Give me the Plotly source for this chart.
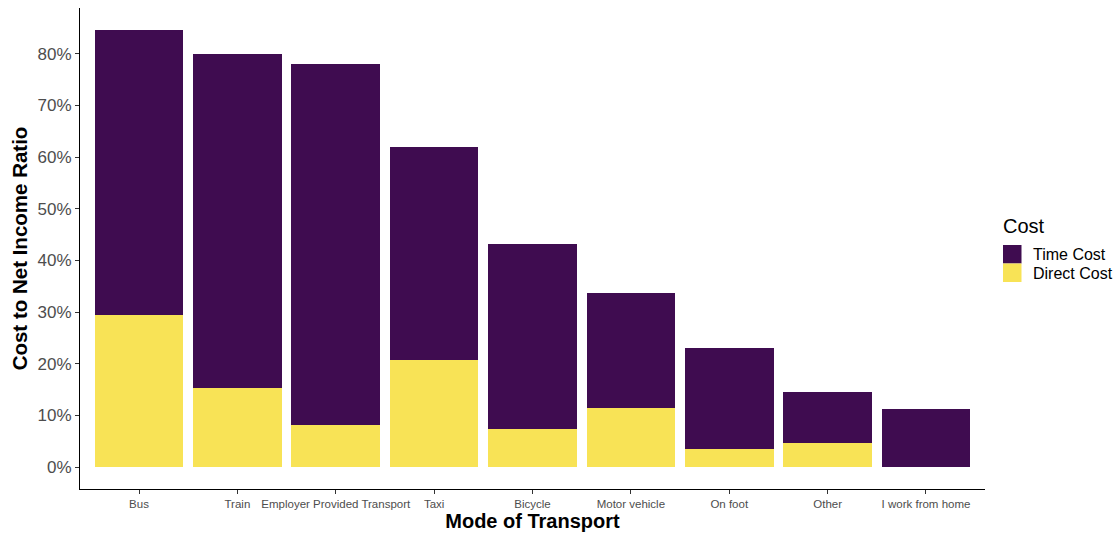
import plotly.graph_objects as go

categories = ["Bus", "Train", "Employer Provided Transport", "Taxi", "Bicycle",
              "Motor vehicle", "On foot", "Other", "I work from home"]
direct_cost = [29.5, 15.3, 8.2, 20.8, 7.4, 11.4, 3.5, 4.6, 0.0]
total_cost = [84.6, 79.9, 78.0, 61.9, 43.1, 33.6, 23.0, 14.6, 11.2]
time_cost = [t - d for t, d in zip(total_cost, direct_cost)]
y_ticks = [0, 10, 20, 30, 40, 50, 60, 70, 80]
y_tick_labels = [f"{v}%" for v in y_ticks]
legend_title = "Cost"
legend_labels = ["Time Cost", "Direct Cost"]

PURPLE = "#3F0C50"
YELLOW = "#F8E356"
FONT = "Liberation Sans, Arial, sans-serif"

W, H = 1117, 536
ML, MR, MT, MB = 80, 132, 8, 47
PW, PH = W - ML - MR, H - MT - MB


def px_x(px):
    return (px - ML) / PW


def px_y(py):
    return (H - MB - py) / PH


fig = go.Figure()
fig.add_trace(go.Bar(x=categories, y=direct_cost, name=legend_labels[1],
                     marker=dict(color=YELLOW, line=dict(width=0)), width=0.9))
fig.add_trace(go.Bar(x=categories, y=time_cost, name=legend_labels[0],
                     marker=dict(color=PURPLE, line=dict(width=0)), width=0.9))

# manual legend (ggplot-style square keys)
legend_colors = [PURPLE, YELLOW]
shapes = []
annotations = [dict(text=legend_title, xref="paper", yref="paper",
                    x=px_x(1001), y=px_y(226), xanchor="left", yanchor="middle",
                    showarrow=False, font=dict(size=20, color="black", family=FONT))]
for i, (lab, col) in enumerate(zip(legend_labels, legend_colors)):
    top = 245 + i * 18.5
    shapes.append(dict(type="rect", xref="paper", yref="paper",
                       x0=px_x(1003), x1=px_x(1021.5), y0=px_y(top + 18.5), y1=px_y(top),
                       fillcolor=col, line=dict(width=0)))
    annotations.append(dict(text=lab, xref="paper", yref="paper",
                            x=px_x(1031), y=px_y(top + 9.5), xanchor="left", yanchor="middle",
                            showarrow=False, font=dict(size=16, color="black", family=FONT)))

fig.update_layout(
    barmode="stack",
    width=W, height=H,
    margin=dict(l=ML, r=MR, t=MT, b=MB),
    paper_bgcolor="white", plot_bgcolor="white",
    font=dict(family=FONT, color="#4d4d4d"),
    showlegend=False,
    shapes=shapes,
    annotations=annotations,
    xaxis=dict(
        range=[-0.6, 8.6],
        showline=True, linecolor="black", linewidth=1,
        ticks="outside", ticklen=4, tickcolor="#333333",
        tickfont=dict(size=11.5, color="#4d4d4d"),
        title=dict(text="<b>Mode of Transport</b>", font=dict(size=20, color="black"), standoff=5),
        automargin=False, showgrid=False,
    ),
    yaxis=dict(
        range=[-4.23, 88.83],
        tickmode="array", tickvals=y_ticks, ticktext=y_tick_labels,
        showline=True, linecolor="black", linewidth=1,
        ticks="outside", ticklen=4, tickcolor="#333333",
        tickfont=dict(size=17, color="#4d4d4d"),
        title=dict(text="<b>Cost to Net Income Ratio</b>", font=dict(size=20.5, color="black"), standoff=4),
        automargin=False, showgrid=False, zeroline=False,
    ),
)

fig.write_html("out.html", config={"displayModeBar": False},
               post_script="document.body.style.margin='0';")
